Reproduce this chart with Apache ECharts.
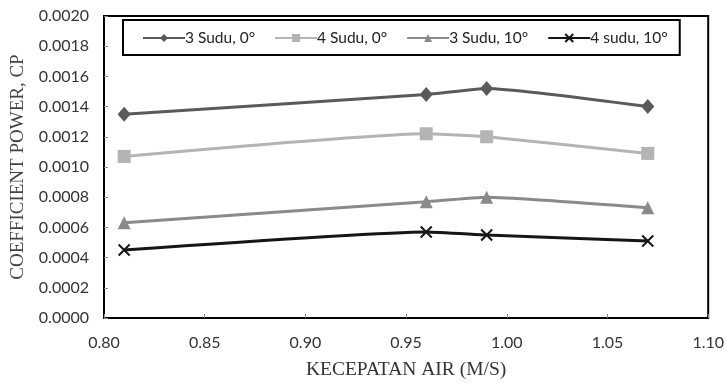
<!DOCTYPE html>
<html><head><meta charset="utf-8">
<script src="https://cdn.jsdelivr.net/npm/echarts@6/dist/echarts.min.js"></script>
<style>html,body{margin:0;padding:0;background:#fff}#c{width:727px;height:385px}</style>
</head><body><div id="c"></div>
<script>
const xValues = [0.81, 0.96, 0.99, 1.07];
const seriesNames = ['3 Sudu, 0°', '4 Sudu, 0°', '3 Sudu, 10°', '4 sudu, 10°'];
const sudu3_0 = [0.00135, 0.00148, 0.00152, 0.00140];
const sudu4_0 = [0.00107, 0.00122, 0.00120, 0.00109];
const sudu3_10 = [0.00063, 0.00077, 0.00080, 0.00073];
const sudu4_10 = [0.00045, 0.00057, 0.00055, 0.00051];
const allValues = [sudu3_0, sudu4_0, sudu3_10, sudu4_10];
const colors = ['#5a5a5a', '#b4b4b4', '#8a8a8a', '#161616'];
const symbols = ['diamond', 'rect', 'triangle', 'path://M0,0 L10,10 M10,0 L0,10'];
const symSizes = [[13, 15], 13, 13, 11];

const chart = echarts.init(document.getElementById('c'));
chart.setOption({
  animation: false,
  grid: {left: 104, right: 16, top: 16, bottom: 63, show: true, borderColor: '#000', borderWidth: 2, backgroundColor: 'transparent'},
  legend: {
    top: 20, left: 123, width: 570, height: 37,
    itemGap: 19, itemWidth: 42, itemHeight: 10,
    padding: [10, 12, 9, 19],
    borderColor: '#000', borderWidth: 2,
    textStyle: {fontFamily: 'Lato', fontSize: 15.5, color: '#222', padding: [0, 0, 0, -5]},
    data: seriesNames
  },
  xAxis: {
    type: 'value', min: 0.80, max: 1.10, interval: 0.05,
    axisLine: {show: true, lineStyle: {color: '#000', width: 2}},
    axisTick: {show: true, inside: true, length: 4, lineStyle: {color: '#888'}},
    splitLine: {show: false},
    axisLabel: {formatter: v => v.toFixed(2), fontFamily: 'Lato', fontSize: 16, color: '#333', margin: 17},
    name: 'KECEPATAN AIR (M/S)', nameLocation: 'middle', nameGap: 42,
    nameTextStyle: {fontFamily: 'Liberation Serif', fontSize: 19.5, color: '#333'}
  },
  yAxis: {
    type: 'value', min: 0, max: 0.002, interval: 0.0002,
    axisLine: {show: true, lineStyle: {color: '#000', width: 2}},
    axisTick: {show: true, inside: true, length: 4, lineStyle: {color: '#888'}},
    splitLine: {show: false},
    axisLabel: {formatter: v => v.toFixed(4), fontFamily: 'Lato', fontSize: 16, color: '#333', margin: 15},
    name: 'COEFFICIENT POWER, CP', nameLocation: 'middle', nameGap: 72,
    nameTextStyle: {fontFamily: 'Liberation Serif', fontSize: 19, color: '#444'}
  },
  series: seriesNames.map((n, i) => ({
    name: n, type: 'line', smooth: 0.15,
    data: xValues.map((x, j) => [x, allValues[i][j]]),
    symbol: symbols[i], symbolSize: symSizes[i],
    lineStyle: {color: colors[i], width: 3},
    itemStyle: {color: colors[i], borderColor: colors[i], borderWidth: i === 3 ? 2 : 0},
  }))
});
</script></body></html>
